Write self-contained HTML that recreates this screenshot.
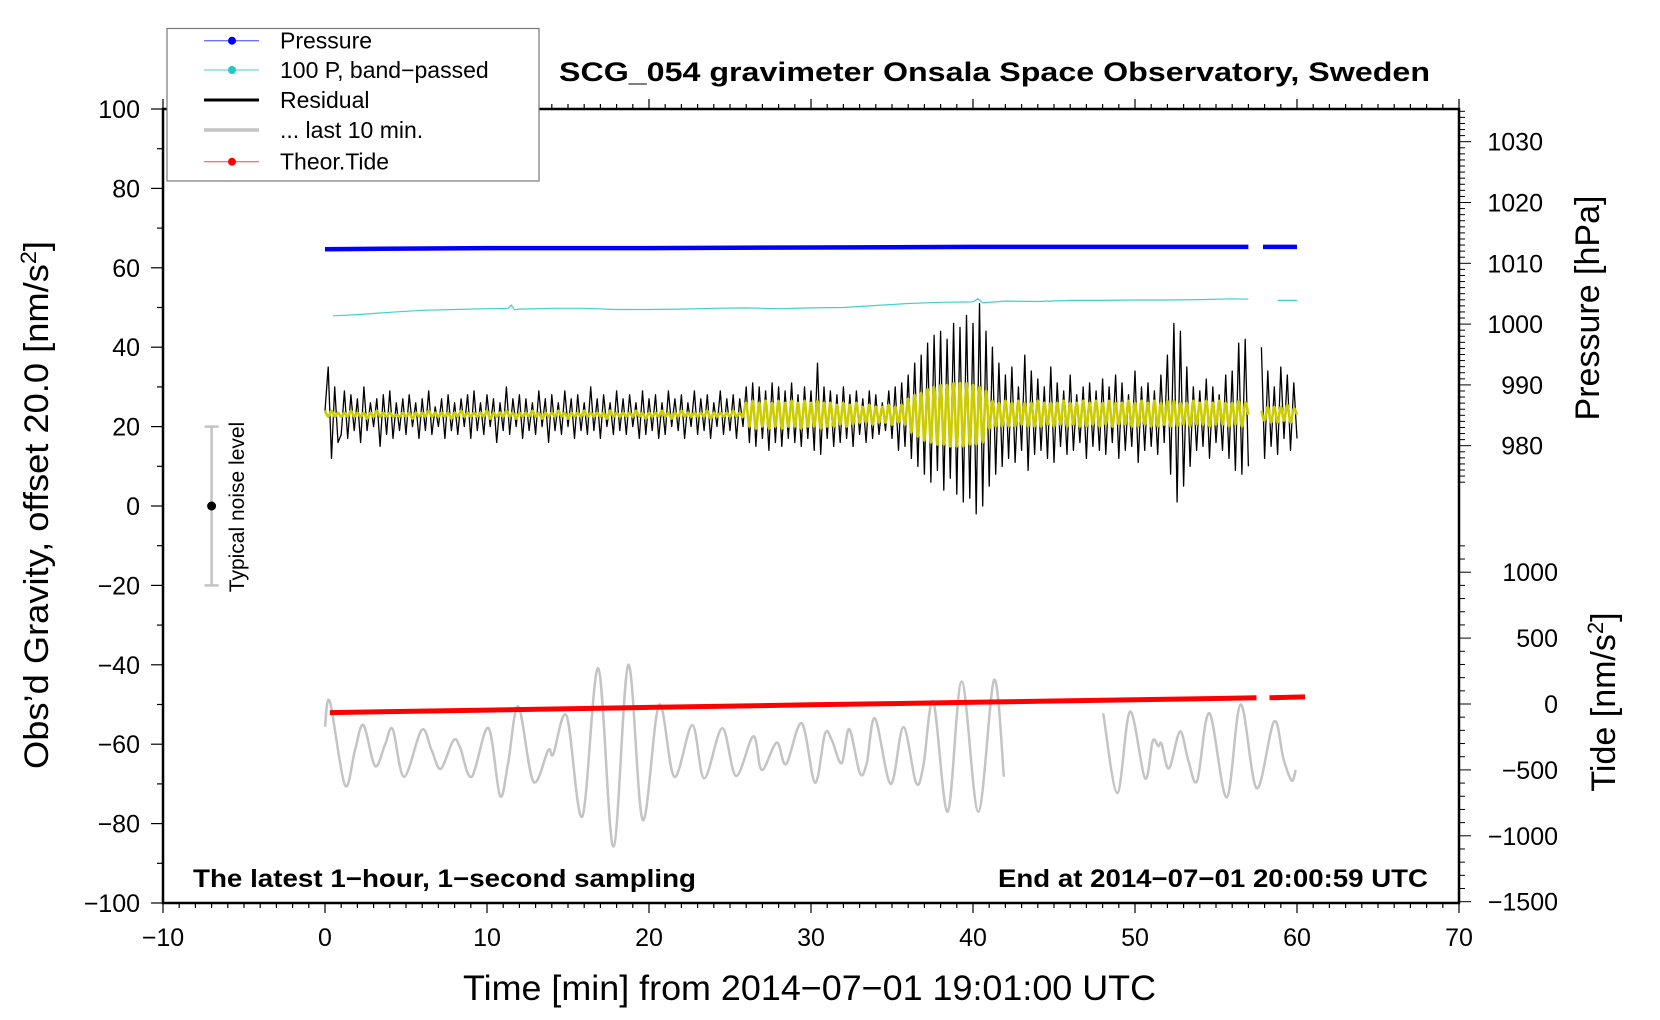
<!DOCTYPE html>
<html><head><meta charset="utf-8"><style>
html,body{margin:0;padding:0;background:#fff;}
svg{display:block;font-family:"Liberation Sans",sans-serif;}
</style></head><body>
<svg id="chart" width="1660" height="1020" viewBox="0 0 1660 1020" xmlns="http://www.w3.org/2000/svg">
<rect x="0" y="0" width="1660" height="1020" fill="#fff"/>
<g id="axes"></g>
<g id="series"></g>
<text x="559" y="81" font-size="27" font-weight="bold" textLength="871" lengthAdjust="spacingAndGlyphs">SCG_054 gravimeter Onsala Space Observatory, Sweden</text>
<text x="193" y="887" font-size="25" font-weight="bold" textLength="503" lengthAdjust="spacingAndGlyphs">The latest 1−hour, 1−second sampling</text>
<text x="998" y="887" font-size="25" font-weight="bold" textLength="430" lengthAdjust="spacingAndGlyphs">End at 2014−07−01 20:00:59 UTC</text>
<text x="463" y="1000" font-size="35" textLength="693" lengthAdjust="spacingAndGlyphs">Time [min] from 2014−07−01 19:01:00 UTC</text>
<text transform="translate(48,505) rotate(-90)" text-anchor="middle" font-size="34" textLength="528" lengthAdjust="spacingAndGlyphs">Obs’d Gravity, offset 20.0 [nm/s<tspan dy="-12" font-size="22">2</tspan><tspan dy="12">]</tspan></text>
<text transform="translate(1599,308) rotate(-90)" text-anchor="middle" font-size="34">Pressure [hPa]</text>
<text transform="translate(1615,702) rotate(-90)" text-anchor="middle" font-size="34">Tide [nm/s<tspan dy="-12" font-size="22">2</tspan><tspan dy="12">]</tspan></text>
<text transform="translate(244,507) rotate(-90)" text-anchor="middle" font-size="21">Typical noise level</text>
<g id="legend"></g>
</svg>
<script>
// ---- data ----
const xTicks = [-10,0,10,20,30,40,50,60,70];
const yTicks = [-100,-80,-60,-40,-20,0,20,40,60,80,100];
const presTicks = [980,990,1000,1010,1020,1030];
const tideTicks = [-1500,-1000,-500,0,500,1000];

const presT = [0,3.5,10,20,30,40,50,57.0,57.5,57.9,60];
const presV = [1012.3,1012.4,1012.5,1012.5,1012.6,1012.7,1012.7,1012.7,null,1012.7,1012.7];

const bandT = [0.5,2,4,6,8,10,11.3,11.5,11.7,12,14,16,18,20,22,24,26,28,30,32,34,36,38,40,40.3,40.6,42,44,46,48,50,52,54,56,57,57.5,58.8,60];
const bandV = [47.9,48.2,48.8,49.3,49.5,49.7,49.8,50.6,49.4,49.6,49.8,49.8,49.5,49.5,49.6,49.8,49.9,49.7,49.9,50.0,50.5,51.0,51.3,51.4,52.2,51.2,51.6,51.5,51.8,51.8,51.9,51.9,52.0,52.2,52.1,null,51.8,51.8];

// residual sampled every 0.2 min from 0 to 60
const residual = [
24,35,12,30,16,
18,29,17,28,19, 27,16,30,19,26, 20,27,15,28,18, 29,17,26,19,27, 18,28,20,26,17,
27,19,29,18,25, 20,27,17,28,19, 26,18,27,20,28, 17,29,19,26,18, 28,20,27,16,26,
19,30,18,27,20, 28,17,27,19,26, 18,29,20,27,16, 28,19,26,18,29, 20,27,17,28,19,
26,18,30,19,27, 17,28,20,26,18, 29,19,27,18,28, 20,26,17,29,18, 27,19,28,17,26,
18,29,20,27,19, 28,17,26,20,29, 18,27,19,28,17, 26,20,29,18,27, 19,28,17,27,20,
30,16,31,15,30, 17,29,14,31,16, 30,15,29,17,31, 16,28,15,30,17, 29,14,36,13,30,
17,29,15,28,16, 30,17,28,15,29, 18,27,16,29,17, 28,18,26,19,29, 17,30,14,31,15,
33,12,36,10,38, 8,41,6,43,9, 44,4,42,7,46, 3,45,1,48,2, 46,-2,51,0,44,
5,40,8,36,10, 33,12,35,11,30, 14,38,9,34,13, 32,14,30,12,35, 11,31,15,29,13,
33,14,28,16,30, 12,31,15,29,14, 32,13,30,16,33, 12,31,14,28,15, 34,11,30,14,31,
15,29,13,33,16, 38,8,46,1,44, 5,35,10,30,14, 29,15,32,12,30, 16,28,14,33,12,
34,9,41,8,42, 10,null,null,null,40, 12,34,15,30,13, 35,17,33,14,31, 17
];
const bandResidual = [
24,22.5,24,22.5,23.5,
22.5,23.5,22.5,24,22.5, 23.5,22.5,23.5,22,23.5, 22.5,24,22.5,23.5,22.5, 23.5,22.5,23,22.5,23.5, 22.5,23.5,22,23.5,22.5,
23.5,22.5,24,22.5,23.5, 22.5,23.5,22.5,23.5,22, 23.5,22.5,24,22.5,23.5, 22.5,23.5,22.5,23.5,22.5, 24,22,23.5,22.5,23.5,
22.5,24,22.5,23.5,22, 23.5,22.5,23.5,22.5,24, 22.5,23.5,22,23.5,22.5, 23.5,22.5,24,22.5,23.5, 22,23.5,22.5,23.5,22.5,
24,22.5,23.5,22.5,23.5, 22.5,23.5,22,24,22.5, 23.5,22.5,23.5,22.5,23.5, 22.5,24,22.5,23.5,22, 23.5,22.5,23.5,22.5,24,
22.5,23.5,22,23.5,22.5, 24,22.5,23.5,22.5,23.5, 22.5,23.5,22.5,24,22, 23.5,22.5,23.5,22.5,23.5, 22.5,24,22.5,23.5,22.5,
26,20,26.5,19.5,26, 20,26.5,19.5,26,20, 26.5,19.5,26,20,26.5, 20,26,19.5,26.5,20, 26,20,26.5,19.5,26,
20,26,20,25.5,20.5, 26,20,25.5,20.5,26, 21,25,21,25.5,20.5, 25,21,25,21,25.5, 20.5,25,21,25.5,20.5,
27,18.5,28,17.5,28.5, 16.5,29.5,16,30,15.5, 30.5,15.5,30.5,15,31, 15,31,15,31,15.5, 30.5,15.5,30,16,29,
19.5,26.5,20,26,20, 26.5,20,26,20,26.5, 20.5,26,20,26,20, 26.5,20,26,20.5,26, 20,26,20.5,26.5,20,
26,20.5,26,20,26.5, 20,26,20.5,26.5,20, 26,20.5,26.5,20,26, 20.5,26,20.5,26.5,20, 26,20,26.5,20.5,26,
20,26.5,20,26,20.5, 26.5,20,26.5,20,26, 20.5,26,20,26.5,20.5, 26,20.5,26.5,20,26, 20.5,26.5,20.5,26,20,
26,20.5,26.5,20,26, 23,null,null,null,24, 21.5,25,21,25,21, 25,21.5,25.5,21,24.5, 23
];

const lastT = [0,0.3,1.23,1.85,2.37,3.09,3.7,4.18,4.88,5.97,6.58,7.14,7.92,8.33,9.05,10.08,10.8,11.3,11.93,12.86,13.78,14.09,14.92,15.88,16.87,17.8,18.72,19.61,20.62,21.56,22.67,23.41,24.52,25.37,26.44,26.96,27.88,28.46,29.43,30.25,30.86,31.28,31.89,32.36,33.02,33.44,33.95,34.92,35.7,36.48,36.93,37.55,38.44,39.3,40.33,41.3,41.91,45,48.04,48.91,49.69,50.62,51.09,51.44,51.64,52.1,52.78,53.29,53.84,54.59,55.66,56.52,57.51,58.58,59.16,59.67,59.92];
const lastV = [-55.6,-49.3,-70.3,-61.5,-55.2,-65.5,-60.2,-56.2,-68.2,-56.4,-61.5,-66.2,-59.1,-60.7,-68.2,-55.9,-73.0,-64.8,-50.5,-69.4,-61.5,-62.5,-52.9,-78.2,-40.9,-85.8,-40.0,-79.1,-50.1,-68.2,-55.2,-68.6,-56.0,-68.0,-58.0,-66.5,-59.6,-65.0,-54.7,-69.7,-57.4,-58.9,-64.8,-56.2,-67.3,-64.8,-53.5,-70.0,-55.7,-69.7,-65.6,-49.3,-77.0,-44.2,-77.0,-43.8,-68.2,null,-52.2,-72.3,-51.8,-68.6,-59.2,-60.5,-59.9,-66.1,-56.8,-64.1,-69.2,-52.2,-73.4,-50.0,-71.1,-54.3,-63.6,-69.2,-66.5];

const tideT = [0.3,5,10,15,20,25,30,35,40,45,50,55,57.5,57.9,58.3,60.5];
const tideV = [-65,-56,-46,-36,-26,-16,-6,3,13,23,33,42,47,null,48,54];

const noiseX = -7;
const noiseCenter = 0;
const noiseHalf = 20;

// ---- scales ----
const X0=163, X1=1459, Y0=903, Y1=109;
const sx = v => X0 + (v+10)*(X1-X0)/80;
const sy = v => Y0 - (v+100)*(Y0-Y1)/200;
const sp = v => 141.7 + (1030-v)*6.08;
const st = v => 704 - v*0.1318;

const NS="http://www.w3.org/2000/svg";
function mk(tag, attrs, parent){const e=document.createElementNS(NS,tag);for(const k in attrs)e.setAttribute(k,attrs[k]);parent.appendChild(e);return e;}
const axes=document.getElementById('axes'), series=document.getElementById('series'), legend=document.getElementById('legend');

function pathFrom(ts, vs, fx, fy){
  let d='', pen=false;
  for(let i=0;i<ts.length;i++){
    if(vs[i]===null){pen=false;continue;}
    d += (pen?'L':'M') + fx(ts[i]).toFixed(1)+','+fy(vs[i]).toFixed(1);
    pen=true;
  }
  return d;
}
function smoothFrom(ts, vs, fx, fy){
  let d=''; let seg=[];
  const flush=()=>{
    if(seg.length<2){seg=[];return;}
    d+='M'+seg[0][0].toFixed(1)+','+seg[0][1].toFixed(1);
    for(let i=0;i<seg.length-1;i++){
      const p0=seg[Math.max(0,i-1)],p1=seg[i],p2=seg[i+1],p3=seg[Math.min(seg.length-1,i+2)];
      const c1x=p1[0]+(p2[0]-p0[0])/6,c1y=p1[1]+(p2[1]-p0[1])/6;
      const c2x=p2[0]-(p3[0]-p1[0])/6,c2y=p2[1]-(p3[1]-p1[1])/6;
      d+='C'+c1x.toFixed(1)+','+c1y.toFixed(1)+' '+c2x.toFixed(1)+','+c2y.toFixed(1)+' '+p2[0].toFixed(1)+','+p2[1].toFixed(1);
    }
    seg=[];
  };
  for(let i=0;i<ts.length;i++){
    if(vs[i]===null){flush();continue;}
    seg.push([fx(ts[i]),fy(vs[i])]);
  }
  flush();
  return d;
}

// ---- axes ----
let el;
el=mk('rect',{x:X0,y:Y1,width:X1-X0,height:Y0-Y1,fill:'none',stroke:'#000','stroke-width':2.5},axes);


for(let m=-10;m<=70;m++){
  const major = m%10===0;
  const L = major?10:5;
  el=mk('line',{x1:sx(m),x2:sx(m),y1:Y0,y2:Y0+L,stroke:'#000','stroke-width':1.2},axes);
  
  
  el=mk('line',{x1:sx(m),x2:sx(m),y1:Y1,y2:Y1-L,stroke:'#000','stroke-width':1.2},axes);
  
  
}
xTicks.forEach(v=>{
  el=mk('text',{x:sx(v),y:946,'text-anchor':'middle','font-size':25},axes);
  el.textContent = v<0 ? '−'+Math.abs(v) : String(v);
  
  
});
for(let v=-100;v<=100;v+=10){
  const major=v%20===0;
  el=mk('line',{x1:X0-(major?12:6),x2:X0,y1:sy(v),y2:sy(v),stroke:'#000','stroke-width':1.2},axes);
  
  
}
yTicks.forEach(v=>{
  el=mk('text',{x:140,y:sy(v)+9,'text-anchor':'end','font-size':25},axes);
  el.textContent = v<0 ? '−'+Math.abs(v) : String(v);
  
  
});
for(let v=974;v<=1035;v++){
  const major=v%10===0;
  el=mk('line',{x1:X1,x2:X1+(major?12:6),y1:sp(v),y2:sp(v),stroke:'#000','stroke-width':1},axes);
  
  
}
presTicks.forEach(v=>{
  el=mk('text',{x:1543,y:sp(v)+9,'text-anchor':'end','font-size':25},axes);
  el.textContent=String(v);
  
  
});
for(let v=-1500;v<=1200;v+=100){
  const major=v%500===0;
  el=mk('line',{x1:X1,x2:X1+(major?12:6),y1:st(v),y2:st(v),stroke:'#000','stroke-width':1},axes);
  
  
}
tideTicks.forEach(v=>{
  el=mk('text',{x:1558,y:st(v)+9,'text-anchor':'end','font-size':25},axes);
  el.textContent = v<0 ? '−'+Math.abs(v) : String(v);
  
  
});

// ---- series ----
el=mk('path',{d:smoothFrom(lastT,lastV,sx,sy),fill:'none',stroke:'#c4c4c4','stroke-width':2.5},series);



const resT = residual.map((_,i)=>i*0.2);
el=mk('path',{d:pathFrom(resT,residual,sx,sy),fill:'none',stroke:'#000','stroke-width':1.3,'stroke-linejoin':'round'},series);


el=mk('path',{d:smoothFrom(resT,bandResidual,sx,sy),fill:'none',stroke:'#cccc00','stroke-width':2.6},series);



el=mk('path',{d:pathFrom(bandT,bandV,sx,sy),fill:'none',stroke:'#40d0d0','stroke-width':1.2},series);



el=mk('path',{d:pathFrom(presT,presV,sx,sp),fill:'none',stroke:'#0000ff','stroke-width':4.5},series);



el=mk('path',{d:pathFrom(tideT,tideV,sx,st),fill:'none',stroke:'#ff0000','stroke-width':5},series);



// noise marker
el=mk('line',{x1:sx(noiseX),x2:sx(noiseX),y1:sy(noiseCenter-noiseHalf),y2:sy(noiseCenter+noiseHalf),stroke:'#c4c4c4','stroke-width':2.5},series);


[noiseCenter-noiseHalf,noiseCenter+noiseHalf].forEach(v=>{
  el=mk('line',{x1:sx(noiseX)-7,x2:sx(noiseX)+7,y1:sy(v),y2:sy(v),stroke:'#c4c4c4','stroke-width':2.5},series);
  
  
});
el=mk('circle',{cx:sx(noiseX),cy:sy(noiseCenter),r:4.5,fill:'#000'},series);



// ---- legend ----
el=mk('rect',{x:167,y:28.5,width:372,height:152.5,fill:'#fff',stroke:'#777','stroke-width':1.2},legend);


const legLabels=['Pressure','100 P, band−passed','Residual','... last 10 min.','Theor.Tide'];
const legColors=['#4040ff','#40d0d0','#000','#c4c4c4','#ff4040'];
const legDot=['#0000ff','#20c8c8',null,null,'#ff0000'];
const legW=[1,1,3,3.5,1];
const legY=[40.7,70,100,130,161.7];
legLabels.forEach((t,i)=>{
  el=mk('line',{x1:204,x2:259,y1:legY[i],y2:legY[i],stroke:legColors[i],'stroke-width':legW[i]},legend);
  
  
  if(legDot[i]){
    el=mk('circle',{cx:232,cy:legY[i],r:4,fill:legDot[i]},legend);
    
    
  }
  el=mk('text',{x:280,y:legY[i]+8,'font-size':23},legend);
  el.textContent=t;
  
  
});
</script>
</body></html>
